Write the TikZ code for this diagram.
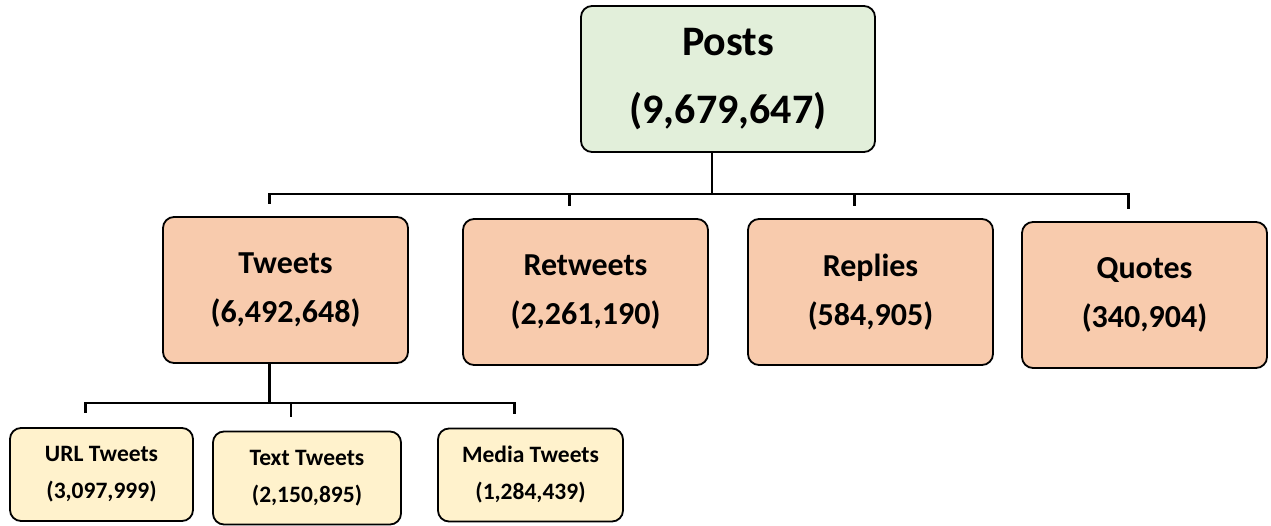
\documentclass[tikz,border=0pt]{standalone}
\usepackage{fontspec}
\setmainfont{Carlito}
\usetikzlibrary{calc}

\definecolor{postgreen}{RGB}{226,239,218}
\definecolor{typepeach}{RGB}{248,203,173}
\definecolor{subcream}{RGB}{255,242,204}

\begin{document}
\begin{tikzpicture}[x=1pt,y=-1pt,
  box/.style={draw=black, line width=1.8pt, rounded corners=11pt, align=center, inner sep=0pt},
  topbox/.style={box, fill=postgreen, minimum width=294pt, minimum height=146pt, font=\bfseries\fontsize{42}{68}\selectfont},
  midbox/.style={box, fill=typepeach, minimum width=245pt, minimum height=146pt, font=\bfseries\fontsize{32}{49}\selectfont},
  lowbox/.style={box, fill=subcream, minimum width=185pt, minimum height=93pt, font=\bfseries\fontsize{23.5}{37}\selectfont},
  conn/.style={line width=2.4pt}]
\useasboundingbox (0,0) rectangle (1271,525);

\node[topbox] (posts) at (728,79) {Posts\\(9,679,647)};

% first level
\node[midbox] (tweets) at (285.5,290) {Tweets\\(6,492,648)};
\node[midbox] (retweets) at (585.5,292) {Retweets\\(2,261,190)};
\node[midbox] (replies) at (870.5,292) {Replies\\(584,905)};
\node[midbox] (quotes) at (1144.5,295) {Quotes\\(340,904)};

% second level
\node[lowbox, minimum width=183pt] (urltw) at (101.5,474.5) {URL Tweets\\(3,097,999)};
\node[lowbox, minimum width=188pt] (texttw) at (307,478) {Text Tweets\\(2,150,895)};
\node[lowbox] (mediatw) at (530.5,475) {Media Tweets\\(1,284,439)};

% connectors
\draw[conn] ([xshift=-16pt]posts.south) -- ++(0,41) coordinate (bus1);
\foreach \c in {tweets,retweets,replies,quotes}
  \draw[conn] (bus1) -| ([xshift=-16pt,yshift=12pt]\c.north);

\draw[conn] ([xshift=-16pt]tweets.south) -- ++(0,39) coordinate (bus2);
\foreach \c in {urltw,texttw,mediatw}
  \draw[conn] (bus2) -| ([xshift=-16pt,yshift=14pt]\c.north);

\end{tikzpicture}
\end{document}
